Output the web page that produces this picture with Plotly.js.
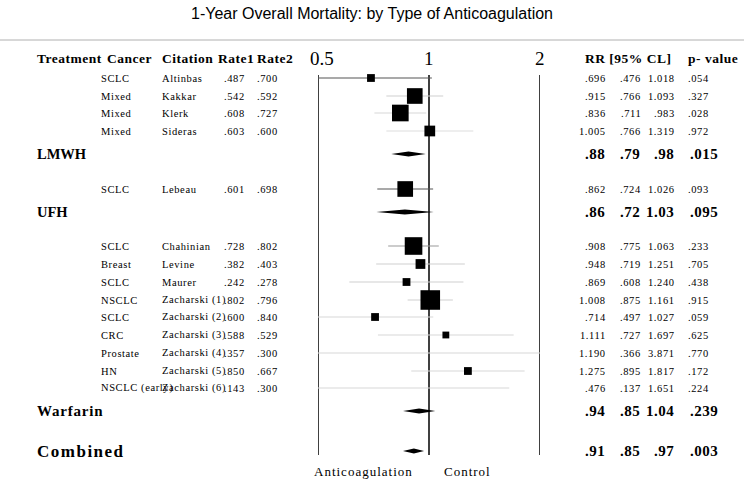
<!DOCTYPE html>
<html>
<head>
<meta charset="utf-8">
<script src="https://cdn.plot.ly/plotly-3.0.1.min.js"></script>
<style>html,body{margin:0;padding:0;background:#fff;}#chart{width:744px;height:482px;}</style>
</head>
<body>
<div id="chart"></div>
<script>
// ---------- data ----------
const cancers   = ['SCLC','Mixed','Mixed','Mixed','SCLC','SCLC','Breast','SCLC','NSCLC','SCLC','CRC','Prostate','HN','NSCLC (early)'];
const citations = ['Altinbas','Kakkar','Klerk','Sideras','Lebeau','Chahinian','Levine','Maurer','Zacharski (1)','Zacharski (2)','Zacharski (3)','Zacharski (4)','Zacharski (5)','Zacharski (6)'];
const rate1     = [.487,.542,.608,.603,.601,.728,.382,.242,.802,.600,.588,.357,.850,.143];
const rate2     = [.700,.592,.727,.600,.698,.802,.403,.278,.796,.840,.529,.300,.667,.300];
const rr        = [.696,.915,.836,1.005,.862,.908,.948,.869,1.008,.714,1.111,1.190,1.275,.476];
const lower     = [.476,.766,.711,.766,.724,.775,.719,.608,.875,.497,.727,.366,.895,.137];
const upper     = [1.018,1.093,.983,1.319,1.026,1.063,1.251,1.240,1.161,1.027,1.697,3.871,1.817,1.651];
const pvals     = [.054,.327,.028,.972,.093,.233,.705,.438,.915,.059,.625,.770,.172,.224];
const weights   = [3.0,12.1,13.7,5.7,12.1,15.3,4.7,3.0,18.9,3.0,2.3,0,3.0,3.0];

const groups  = ['LMWH','UFH','Warfarin','Combined'];
const gRR     = [.88,.86,.94,.91];
const gLower  = [.79,.72,.85,.85];
const gUpper  = [.98,1.03,1.04,.97];
const gP      = [.015,.095,.239,.003];

const axisTicks = [0.5,1,2];
const axisTickText = ['0.5','1','2'];

// ---------- layout helpers (positions / styles) ----------
const W = 744, H = 482;
const studyY = [78,96,113,131,189,246,264,282,300,317,335,353,371,388];
const groupY = [154,212,411,451];
const ciColor = ['#555','#d0d0d0','#d8d8d8','#dedede','#555','#999','#d0d0d0','#d0d0d0','#d0d0d0','#d8d8d8','#d8d8d8','#d8d8d8','#d8d8d8','#d8d8d8'];
const SERIF = 'Liberation Serif, Times New Roman, serif';

function fmt3(v){ let s = v.toFixed(3); return s.startsWith('0') ? s.slice(1) : s; }
function fmt2(v){ let s = v.toFixed(2); return s.startsWith('0') ? s.slice(1) : s; }
function sp(t, ls){ return '<span style="letter-spacing:'+ls+'px">'+t+'</span>'; }

const traces = [];
// CI lines
for (let i=0;i<rr.length;i++){
  traces.push({x:[lower[i],upper[i]], y:[studyY[i],studyY[i]], mode:'lines', type:'scatter',
    line:{color:ciColor[i], width:1.2}, hoverinfo:'skip', showlegend:false});
}
// boxes
traces.push({x:rr, y:studyY, mode:'markers', type:'scatter', hoverinfo:'skip', showlegend:false,
  marker:{symbol:'square', color:'#000', opacity:1, size:weights.map(w=>Math.sqrt(w)*4.5), line:{width:0}}});
// diamonds
for (let g=0;g<groups.length;g++){
  const y=groupY[g], h=2.6;
  traces.push({x:[gLower[g],gRR[g],gUpper[g],gRR[g],gLower[g]], y:[y,y-h,y,y+h,y],
    mode:'lines', fill:'toself', fillcolor:'#000', line:{width:0,color:'#000'}, type:'scatter',
    hoverinfo:'skip', showlegend:false});
}

const ann = [];
function A(text, xpx, ypx, anchor, size, bold, ls){
  ann.push({xref:'paper', yref:'y', x:xpx/W, y:ypx, xanchor:anchor, yanchor:'middle',
    text: sp(bold?'<b>'+text+'</b>':text, ls), showarrow:false, borderpad:0,
    font:{family:SERIF, size:size, color:'#000'}});
}
// header
const hs=13.5, hl=0.5;
A('Treatment',36,58,'left',hs,true,hl);
A('Cancer',106,58,'left',hs,true,hl);
A('Citation',161,58,'left',hs,true,hl);
A('Rate1',217,58,'left',hs,true,hl);
A('Rate2',256,58,'left',hs,true,hl);
A('RR [95% CL]',584,58,'left',hs,true,hl);
A('p- value',687,58,'left',hs,true,hl);
// axis tick labels
for (let k=0;k<axisTicks.length;k++){
  ann.push({xref:'x', yref:'y', x:Math.log10(axisTicks[k]), y:58, xanchor:'center', yanchor:'middle',
    text: axisTickText[k], showarrow:false, borderpad:0, font:{family:SERIF, size:19, color:'#000'},
    xshift: k===0?4:0});
}
// study rows
const rs=10.5, rl=0.6;
for (let i=0;i<rr.length;i++){
  const y=studyY[i];
  A(cancers[i],100,y,'left',rs,false,rl);
  A(citations[i],161,y,'left',rs,false,rl);
  A(fmt3(rate1[i]),223,y,'left',rs,false,rl);
  A(fmt3(rate2[i]),256,y,'left',rs,false,rl);
  A(fmt3(rr[i]),607,y,'right',rs,false,rl);
  A(fmt3(lower[i]),642,y,'right',rs,false,rl);
  A(fmt3(upper[i]),676,y,'right',rs,false,rl);
  A(fmt3(pvals[i]),687,y,'left',rs,false,rl);
}
// group rows
const gSize=[14.5,14.5,15,17], gLs=[0,0,0.8,1.5];
for (let g=0;g<groups.length;g++){
  const y=groupY[g];
  A(groups[g],36,y,'left',gSize[g],true,gLs[g]);
  A(fmt2(gRR[g]),606,y,'right',15,true,0.5);
  A(fmt2(gLower[g]),641,y,'right',15,true,0.5);
  A(fmt2(gUpper[g]),675,y,'right',15,true,0.5);
  A(fmt3(gP[g]),689,y,'left',15,true,0.5);
}
// bottom labels
A('Anticoagulation',363,471,'center',13,false,1);
A('Control',467,471,'center',13,false,1);

const shapes = [
  {type:'line', xref:'paper', yref:'y', x0:0, x1:1, y0:40, y1:40, line:{color:'#b0b0b0', width:1}}
];
for (const v of axisTicks){
  shapes.push({type:'line', xref:'x', yref:'y', x0:v, x1:v, y0:75, y1:455, line:{color:'#000', width:1.5}, layer:'below'});
}

const layout = {
  width:W, height:H, margin:{l:0,r:0,t:0,b:0}, paper_bgcolor:'#fff', plot_bgcolor:'rgba(0,0,0,0)',
  title:{text:'1-Year Overall Mortality: by Type of Anticoagulation', x:0.5, xanchor:'center',
    y:1-13/H, yanchor:'middle', yref:'container', font:{family:'Liberation Sans, Arial, sans-serif', size:16, color:'#000'}},
  xaxis:{type:'log', range:[Math.log10(0.5), Math.log10(2)], domain:[318/W, 540/W], visible:false, fixedrange:true},
  yaxis:{range:[H,0], domain:[0,1], visible:false, fixedrange:true},
  showlegend:false, annotations:ann, shapes:shapes
};
Plotly.newPlot('chart', traces, layout, {staticPlot:true, displayModeBar:false});
</script>
</body>
</html>
